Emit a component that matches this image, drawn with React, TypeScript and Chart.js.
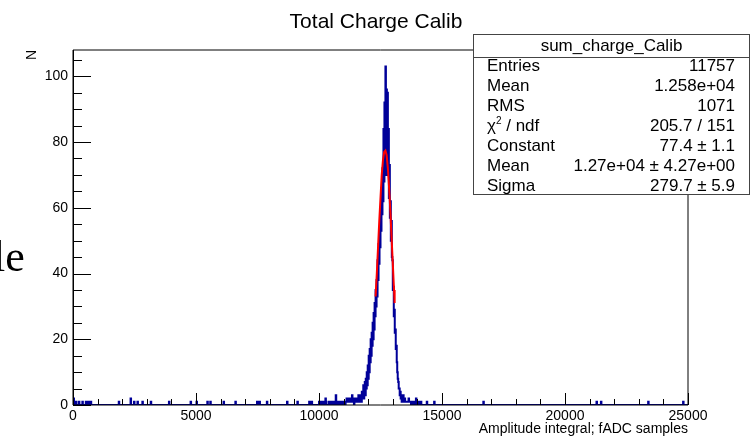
import React, { useEffect, useRef } from "react";
import { Chart, registerables } from "chart.js";

Chart.register(...registerables);

// ---------------- data ----------------
const chartTitle = "Total Charge Calib";
const xAxisTitle = "Amplitude integral; fADC samples";
const yAxisTitle = "N";

const X_MIN = 0;
const X_MAX = 25000;
const Y_MIN = 0;
const Y_MAX = 108;
const BIN_WIDTH = 20;

const xTickLabels = [0, 5000, 10000, 15000, 20000, 25000];
const yTickLabels = [0, 20, 40, 60, 80, 100];

// dense part of the histogram, bins of BIN_WIDTH starting at PEAK_START
const PEAK_START = 10000;
const peakCounts = [
  0, 1, 1, 0, 1, 1, 1, 0, 1, 1,
  1, 1, 0, 0, 2, 1, 0, 0, 0, 0,
  0, 1, 1, 1, 0, 1, 1, 1, 1, 0,
  1, 1, 1, 1, 0, 3, 1, 1, 0, 1,
  1, 1, 0, 1, 1, 1, 1, 0, 1, 1,
  1, 1, 0, 0, 0, 1, 1, 2, 1, 1,
  1, 2, 1, 1, 2, 1, 2, 1, 3, 1,
  1, 1, 0, 2, 1, 1, 1, 2, 2, 1,
  1, 3, 1, 2, 1, 3, 2, 1, 4, 2,
  3, 6, 2, 5, 7, 3, 8, 5, 10, 6,
  12, 8, 15, 10, 17, 13, 20, 15, 22, 18,
  25, 20, 28, 23, 31, 27, 35, 30, 38, 33,
  44, 38, 49, 43, 54, 48, 60, 53, 66, 58,
  72, 62, 84, 68, 92, 75, 103, 70, 96, 74,
  95, 70, 84, 63, 73, 57, 62, 50, 56, 45,
  44, 35, 36, 27, 29, 22, 23, 17, 18, 13,
  10, 8, 7, 5, 5, 3, 4, 2, 3, 1,
  2, 1, 3, 1, 1, 2, 1, 1, 1, 1,
  1, 1, 1, 2, 1, 1, 1, 1, 0, 1,
  1, 1, 0, 1, 1,
];

// isolated bins elsewhere: [bin low edge, count]
const isolatedBins: [number, number][] = [
  [40, 2], [140, 1], [260, 1], [400, 1], [540, 1], [640, 1], [740, 1],
  [1880, 1], [2360, 2], [2500, 1], [2640, 1], [2840, 1], [3180, 1], [3920, 1],
  [4800, 1], [5040, 1], [5480, 1], [5600, 1], [6140, 1], [6620, 1],
  [7500, 1], [7600, 1], [7900, 1], [8720, 1], [9140, 1], [9620, 1], [9720, 1],
  [13900, 1], [13960, 2], [14020, 1], [14080, 1], [14160, 1], [14400, 1],
  [14700, 1], [16700, 1], [21300, 1], [21480, 1], [23400, 1], [24820, 1],
];

// gaussian fit curve as drawn
const fitX = [12300, 12350, 12400, 12450, 12500, 12550, 12600, 12650, 12700, 12750, 12800, 12850, 12900, 12950, 13000, 13050, 13075];
const fitY = [33, 40, 48, 56, 63, 70, 74.5, 77, 77.4, 76, 72, 66, 59, 51, 43, 35, 31];

// statistics box
const statsName = "sum_charge_Calib";
const statsLabels = ["Entries", "Mean", "RMS", "CHI2", "Constant", "Mean", "Sigma"];
const statsValues = ["11757", "1.258e+04", "1071", "205.7 / 151", "77.4 \u00b1 1.1", "1.27e+04 \u00b1 4.27e+00", "279.7 \u00b1 5.9"];

// ---------------- build ----------------
const nBins = Math.round((X_MAX - X_MIN) / BIN_WIDTH);
const binCounts: number[] = new Array(nBins).fill(0);
const peakOffset = Math.round((PEAK_START - X_MIN) / BIN_WIDTH);
peakCounts.forEach((c, i) => {
  binCounts[peakOffset + i] = c;
});
isolatedBins.forEach(([edge, c]) => {
  binCounts[Math.round((edge - X_MIN) / BIN_WIDTH)] = c;
});
const histPoints = binCounts.map((c, i) => ({ x: X_MIN + i * BIN_WIDTH, y: c }));
histPoints.push({ x: X_MAX, y: binCounts[nBins - 1] });
const fitPoints = fitX.map((x, i) => ({ x, y: fitY[i] }));

const FONT = '"Liberation Sans", Arial, Helvetica, sans-serif';

const rootPlugin = {
  id: "rootDecor",
  afterDatasetsDraw(chart: any) {
    const { ctx, chartArea: a, scales } = chart;
    const xs = scales.x;
    const ys = scales.y;
    ctx.save();
    ctx.strokeStyle = "#000";
    ctx.lineWidth = 1;

    // frame
    ctx.beginPath();
    ctx.moveTo(a.left, a.top);
    ctx.lineTo(a.right, a.top);
    ctx.lineTo(a.right, a.bottom);
    ctx.lineTo(a.left, a.bottom);
    ctx.closePath();
    ctx.stroke();
    ctx.beginPath();
    ctx.moveTo(a.left + 0.5, a.top);
    ctx.lineTo(a.left + 0.5, a.bottom);
    ctx.stroke();

    // y ticks (inward)
    ctx.beginPath();
    for (let v = Y_MIN; v <= Y_MAX; v += 5) {
      const py = Math.round(ys.getPixelForValue(v)) + 0.5;
      const len = v % 20 === 0 ? 18 : 9;
      ctx.moveTo(a.left, py);
      ctx.lineTo(a.left + len, py);
    }
    // x ticks (inward)
    for (let v = X_MIN; v <= X_MAX; v += 1000) {
      const px = Math.round(xs.getPixelForValue(v)) + 0.5;
      const len = v % 5000 === 0 ? 12 : 6;
      ctx.moveTo(px, a.bottom);
      ctx.lineTo(px, a.bottom - len);
    }
    ctx.stroke();

    // title
    ctx.fillStyle = "#000";
    ctx.font = `21px ${FONT}`;
    ctx.textAlign = "center";
    ctx.textBaseline = "alphabetic";
    ctx.fillText(chartTitle, 376, 28);

    // x title
    ctx.font = `14px ${FONT}`;
    ctx.textAlign = "right";
    ctx.fillText(xAxisTitle, a.right, 433);

    // y title
    ctx.save();
    ctx.translate(36, a.top);
    ctx.rotate(-Math.PI / 2);
    ctx.textAlign = "right";
    ctx.font = `14px ${FONT}`;
    ctx.fillText(yAxisTitle, 0, 0);
    ctx.restore();

    // stats box
    const bx0 = 473.5, by0 = 34.5, bx1 = 749.5, by1 = 194.5;
    ctx.fillStyle = "#fff";
    ctx.fillRect(bx0, by0, bx1 - bx0, by1 - by0);
    ctx.strokeStyle = "#444";
    ctx.strokeRect(bx0, by0, bx1 - bx0, by1 - by0);
    ctx.beginPath();
    ctx.moveTo(bx0, 57.5);
    ctx.lineTo(bx1, 57.5);
    ctx.stroke();

    ctx.fillStyle = "#000";
    ctx.font = `17px ${FONT}`;
    ctx.textBaseline = "middle";
    ctx.textAlign = "center";
    ctx.fillText(statsName, (bx0 + bx1) / 2, 46.5);
    statsLabels.forEach((lab, i) => {
      const yy = 66 + 20 * i;
      ctx.textAlign = "left";
      if (lab === "CHI2") {
        ctx.font = `17px ${FONT}`;
        ctx.fillText("\u03c7", 487, yy);
        const w = ctx.measureText("\u03c7").width;
        ctx.font = `10px ${FONT}`;
        ctx.fillText("2", 487 + w, yy - 5);
        const w2 = ctx.measureText("2").width;
        ctx.font = `17px ${FONT}`;
        ctx.fillText(" / ndf", 487 + w + w2, yy);
      } else {
        ctx.font = `17px ${FONT}`;
        ctx.fillText(lab, 487, yy);
      }
      ctx.textAlign = "right";
      ctx.font = `17px ${FONT}`;
      ctx.fillText(statsValues[i], 735, yy);
    });
    ctx.restore();
  },
};

export default function App() {
  const ref = useRef<HTMLCanvasElement>(null);
  useEffect(() => {
    if (!ref.current) return;
    const chart = new Chart(ref.current, {
      type: "scatter",
      data: {
        datasets: [
          {
            data: fitPoints,
            showLine: true,
            borderColor: "#ff0000",
            borderWidth: 2,
            pointRadius: 0,
            fill: false,
            order: 0,
          },
          {
            data: histPoints,
            showLine: true,
            stepped: "after",
            borderColor: "#000099",
            borderWidth: 2,
            pointRadius: 0,
            fill: false,
            order: 1,
          },
        ],
      },
      options: {
        responsive: false,
        animation: false,
        events: [],
        layout: { padding: { top: 50, right: 67, left: 0, bottom: 0 } },
        plugins: {
          legend: { display: false },
          tooltip: { enabled: false },
          title: { display: false },
        },
        scales: {
          x: {
            type: "linear",
            min: X_MIN,
            max: X_MAX,
            afterFit: (s: any) => {
              s.height = 32;
            },
            afterBuildTicks: (s: any) => {
              s.ticks = xTickLabels.map((v) => ({ value: v }));
            },
            ticks: {
              font: { family: FONT, size: 14 },
              color: "#000",
              padding: 3,
              maxRotation: 0,
              autoSkip: false,
              callback: (v: any) => String(v),
            },
            grid: { display: false, drawTicks: false },
            border: { display: false },
          },
          y: {
            type: "linear",
            min: Y_MIN,
            max: Y_MAX,
            afterFit: (s: any) => {
              s.width = 73;
            },
            afterBuildTicks: (s: any) => {
              s.ticks = yTickLabels.map((v) => ({ value: v }));
            },
            ticks: {
              font: { family: FONT, size: 14 },
              color: "#000",
              padding: 5,
              autoSkip: false,
              callback: (v: any) => String(v),
            },
            grid: { display: false, drawTicks: false },
            border: { display: false },
          },
        },
      },
      plugins: [rootPlugin],
    } as any);
    return () => chart.destroy();
  }, []);

  return (
    <div
      style={{
        position: "absolute",
        left: 0,
        top: 0,
        width: 755,
        height: 437,
        background: "#fff",
        overflow: "hidden",
      }}
    >
      <canvas ref={ref} width={755} height={437} style={{ position: "absolute", left: 0, top: 0 }} />
      <div
        style={{
          position: "absolute",
          left: -7,
          top: 235,
          fontFamily: '"Liberation Serif", "Times New Roman", serif',
          fontSize: 44,
          lineHeight: "44px",
          color: "#000",
          whiteSpace: "nowrap",
        }}
      >
        le
      </div>
    </div>
  );
}
